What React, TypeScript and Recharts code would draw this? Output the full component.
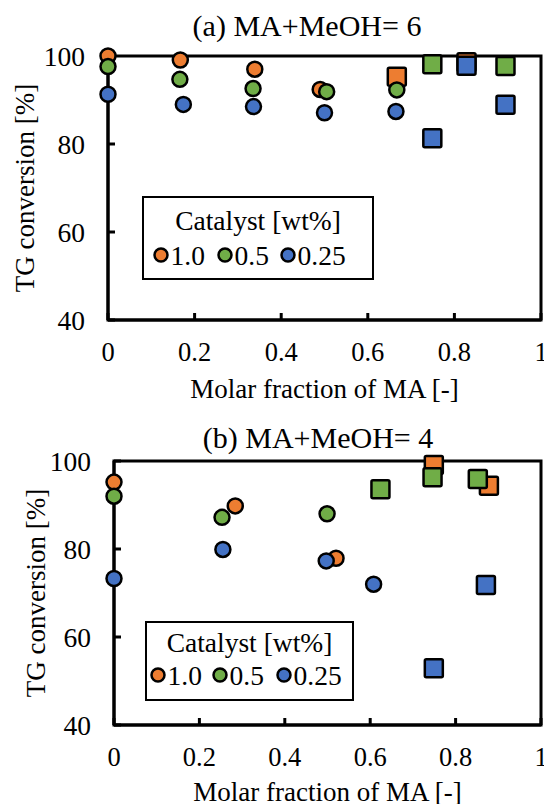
import { ScatterChart, Scatter, XAxis, YAxis, ReferenceArea, Label } from "recharts";

// Excel-style palette used in the figure
const ORANGE = "#ED7D31";
const GREEN = "#70AD47";
const BLUE = "#4472C4";
const FONT = "'Liberation Serif', 'Times New Roman', serif";

const xTicks = [0, 0.2, 0.4, 0.6, 0.8, 1];
const yTicks = [40, 60, 80, 100];
const catalystLabels = ["1.0", "0.5", "0.25"];

// (a) MA+MeOH = 6
const aOrangeCircX = [0, 0.167, 0.339, 0.49];
const aOrangeCircY = [100, 99.1, 97.0, 92.4];
const aGreenCircX = [0, 0.166, 0.335, 0.505, 0.667];
const aGreenCircY = [97.6, 94.7, 92.6, 91.9, 92.3];
const aBlueCircX = [0, 0.174, 0.336, 0.5, 0.665];
const aBlueCircY = [91.3, 89.0, 88.5, 87.1, 87.4];
const aOrangeSqX = [0.667, 0.828];
const aOrangeSqY = [95.3, 98.6];
const aGreenSqX = [0.749, 0.918];
const aGreenSqY = [98.1, 97.7];
const aBlueSqX = [0.749, 0.828, 0.918];
const aBlueSqY = [81.3, 97.8, 88.9];

// (b) MA+MeOH = 4
const bOrangeCircX = [0, 0.284, 0.52];
const bOrangeCircY = [95.2, 89.8, 77.9];
const bGreenCircX = [0, 0.253, 0.499];
const bGreenCircY = [92.0, 87.2, 88.0];
const bBlueCircX = [0, 0.255, 0.497, 0.608];
const bBlueCircY = [73.3, 79.9, 77.3, 72.0];
const bOrangeSqX = [0.749, 0.878];
const bOrangeSqY = [99.1, 94.4];
const bGreenSqX = [0.624, 0.746, 0.852];
const bGreenSqY = [93.6, 96.3, 95.9];
const bBlueSqX = [0.749, 0.871];
const bBlueSqY = [52.9, 71.8];

const pts = (xs: number[], ys: number[]) => xs.map((x, i) => ({ x, y: ys[i] }));

const circleShape = (fill: string) => (p: any) => (
  <circle cx={p.cx} cy={p.cy} r={7.5} fill={fill} stroke="#000" strokeWidth={2.5} />
);
const squareShape = (fill: string) => (p: any) => (
  <rect x={p.cx - 9} y={p.cy - 9} width={18} height={18} rx={1.5} fill={fill} stroke="#000" strokeWidth={2.5} />
);

// squares first, then circles; orange -> green -> blue (matches overlap order)
const seriesA = [
  { name: "sq-1.0", data: pts(aOrangeSqX, aOrangeSqY), shape: squareShape(ORANGE) },
  { name: "sq-0.5", data: pts(aGreenSqX, aGreenSqY), shape: squareShape(GREEN) },
  { name: "sq-0.25", data: pts(aBlueSqX, aBlueSqY), shape: squareShape(BLUE) },
  { name: "1.0", data: pts(aOrangeCircX, aOrangeCircY), shape: circleShape(ORANGE) },
  { name: "0.5", data: pts(aGreenCircX, aGreenCircY), shape: circleShape(GREEN) },
  { name: "0.25", data: pts(aBlueCircX, aBlueCircY), shape: circleShape(BLUE) },
];
const seriesB = [
  { name: "sq-1.0", data: pts(bOrangeSqX, bOrangeSqY), shape: squareShape(ORANGE) },
  { name: "sq-0.5", data: pts(bGreenSqX, bGreenSqY), shape: squareShape(GREEN) },
  { name: "sq-0.25", data: pts(bBlueSqX, bBlueSqY), shape: squareShape(BLUE) },
  { name: "1.0", data: pts(bOrangeCircX, bOrangeCircY), shape: circleShape(ORANGE) },
  { name: "0.5", data: pts(bGreenCircX, bGreenCircY), shape: circleShape(GREEN) },
  { name: "0.25", data: pts(bBlueCircX, bBlueCircY), shape: circleShape(BLUE) },
];

const txt = { fontFamily: FONT };

const CatalystLegend = ({ left, top, width, height, titleY, itemY, markerXs }: any) => {
  const colors = [ORANGE, GREEN, BLUE];
  return (
    <svg style={{ position: "absolute", left, top }} width={width} height={height}>
      <rect x={1} y={1} width={width - 2} height={height - 2} fill="#fff" stroke="#000" strokeWidth={2} />
      <text x={width / 2} y={titleY} textAnchor="middle" dominantBaseline="central" fontSize={27.5} style={txt} fill="#000">
        Catalyst [wt%]
      </text>
      {colors.map((c, i) => (
        <g key={c}>
          <circle cx={markerXs[i]} cy={itemY} r={6.5} fill={c} stroke="#000" strokeWidth={2.5} />
          <text x={markerXs[i] + 9.5} y={itemY} dominantBaseline="central" fontSize={27.5} style={txt} fill="#000">
            {catalystLabels[i]}
          </text>
        </g>
      ))}
    </svg>
  );
};

const Panel = ({ top, height, axisLeft, title, titleX, titleBaseline, yTitleX, xTitleOffset, series, legend }: any) => (
  <div style={{ position: "absolute", left: 0, top, width: 544, height }}>
    <ScatterChart width={544} height={height} margin={{ top: 56, right: 3, bottom: 0, left: 0 }}>
      <XAxis
        type="number"
        dataKey="x"
        domain={[0, 1]}
        ticks={xTicks}
        interval={0}
        height={height - 320}
        axisLine={{ stroke: "#000", strokeWidth: 3 }}
        tickLine={{ stroke: "#000", strokeWidth: 3 }}
        tickSize={-7}
        tickMargin={29}
        tick={{ fill: "#000", fontSize: 26.5, fontFamily: FONT, style: txt }}
      >
        <Label
          value="Molar fraction of MA [-]"
          position="insideBottom"
          offset={xTitleOffset}
          fill="#000"
          style={{ fontSize: 27, fontFamily: FONT, fill: "#000" }}
        />
      </XAxis>
      <YAxis
        type="number"
        dataKey="y"
        domain={[40, 100]}
        ticks={yTicks}
        interval={0}
        width={axisLeft}
        axisLine={{ stroke: "#000", strokeWidth: 3 }}
        tickLine={{ stroke: "#000", strokeWidth: 3 }}
        tickSize={-7}
        tickMargin={30}
        tick={{ fill: "#000", fontSize: 27.5, fontFamily: FONT, style: txt }}
      >
        <Label
          value="TG conversion [%]"
          angle={-90}
          position="insideLeft"
          offset={yTitleX}
          fill="#000"
          style={{ fontSize: 27, fontFamily: FONT, fill: "#000", textAnchor: "middle" }}
        />
      </YAxis>
      <ReferenceArea x1={0} x2={1} y1={40} y2={100} fill="none" fillOpacity={0} stroke="#000" strokeWidth={3} />
      {series.map((s: any) => (
        <Scatter key={s.name} name={s.name} data={s.data} shape={s.shape} isAnimationActive={false} />
      ))}
    </ScatterChart>
    <svg style={{ position: "absolute", left: 0, top: 0 }} width={544} height={50}>
      <text x={titleX} y={titleBaseline} textAnchor="middle" fontSize={30} style={txt} fill="#000">
        {title}
      </text>
    </svg>
    <CatalystLegend {...legend} />
  </div>
);

export default function App() {
  return (
    <div style={{ position: "absolute", left: 0, top: 0, width: 544, height: 804, background: "#fff", overflow: "hidden", fontFamily: FONT }}>
      <Panel
        top={0}
        height={405}
        axisLeft={108}
        title="(a) MA+MeOH= 6"
        titleX={307}
        titleBaseline={36}
        yTitleX={24}
        xTitleOffset={7}
        series={seriesA}
        legend={{ left: 142, top: 196, width: 232, height: 84, titleY: 24, itemY: 59, markerXs: [19, 83, 146] }}
      />
      <Panel
        top={405}
        height={399}
        axisLeft={114}
        title="(b) MA+MeOH= 4"
        titleX={318}
        titleBaseline={43}
        yTitleX={35}
        xTitleOffset={3}
        series={seriesB}
        legend={{ left: 145, top: 216, width: 209, height: 80, titleY: 21, itemY: 54, markerXs: [13, 75, 139] }}
      />
    </div>
  );
}
